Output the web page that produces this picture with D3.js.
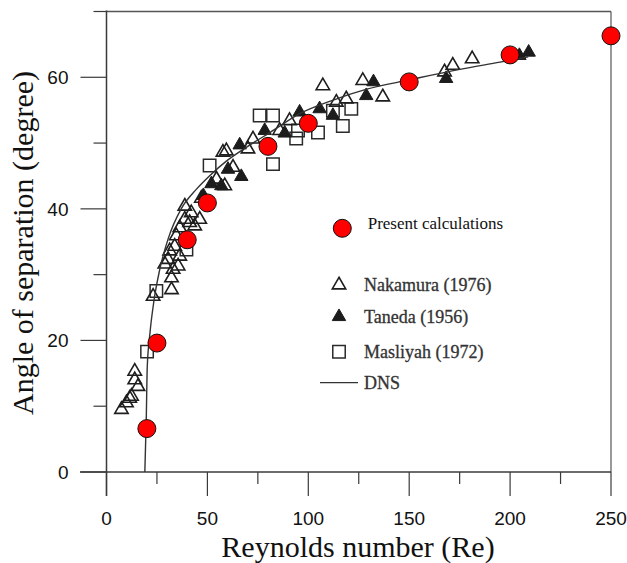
<!DOCTYPE html>
<html>
<head>
<meta charset="utf-8">
<script src="https://cdn.jsdelivr.net/npm/d3@7"></script>
<style>
  html, body { margin: 0; padding: 0; background: #fff; }
  svg { display: block; }
</style>
</head>
<body>
<svg id="chart" width="627" height="563"></svg>
<script>
// ---- data (Re, angle in degrees) ----
const presentRe    = [20, 25, 40, 50, 80, 100, 150, 200, 250];
const presentAngle = [6.6, 19.6, 35.3, 40.9, 49.5, 53.0, 59.3, 63.4, 66.3];

const nakamuraRe    = [7.4, 9.9, 11.5, 12.4, 14, 15.6, 14, 23.1, 32.2, 32.2, 33, 28.9, 30.5, 35.5, 31.3, 33.8, 36.3, 34.6, 36.3, 38.8, 41.2, 38.8, 42, 43.7, 46.2, 47, 54.5, 58.6, 57.7, 59.4, 62.7, 70.1, 72.6, 85.8, 90.7, 107.2, 113.9, 118.8, 127, 136.9, 167.5, 171.6, 181.2];
const nakamuraAngle = [9.5, 10.5, 11.2, 11.5, 14, 13, 15.3, 26.7, 27.7, 29.5, 30.8, 31.6, 32.3, 31.3, 33.6, 34.3, 32.8, 35.9, 37.1, 38.4, 37.9, 40.4, 39.4, 37.4, 38.4, 41.6, 44.5, 43.5, 48.6, 48.8, 46.3, 49.1, 50.6, 51.9, 53.4, 58.7, 56.2, 56.7, 59.5, 57.0, 60.8, 61.8, 62.8];

const tanedaRe    = [48, 52, 56.9, 60.2, 66, 66.8, 78.4, 88.3, 95.7, 105.6, 112.2, 128.7, 132.3, 168.3, 204.6, 209.2];
const tanedaAngle = [42.0, 43.8, 43.5, 46.0, 49.7, 44.9, 51.9, 51.5, 54.7, 55.2, 54.2, 57.2, 59.3, 59.8, 63.3, 63.8];

const masliyahRe    = [20.1, 24.7, 39.6, 51.1, 75.9, 82.5, 82.5, 94, 94.9, 104.8, 112.2, 117.1, 121.3];
const masliyahAngle = [18.3, 27.5, 33.8, 46.6, 54.2, 54.2, 46.8, 50.7, 51.9, 51.6, 54.9, 52.6, 55.2];

const dnsRe    = [19, 19.7, 20.2, 21.5, 23.5, 26.4, 30.5, 37, 44.6, 51, 60, 70, 81, 96, 112, 129, 150, 175, 195, 209];
const dnsAngle = [0, 8, 16, 21, 26, 30.8, 35.4, 40, 43, 45, 47.4, 49.5, 51.6, 54.5, 56.5, 58.2, 59.6, 61.2, 62.3, 63.1];

const xTicks = [0, 25, 50, 75, 100, 125, 150, 175, 200, 225, 250];
const xTickLabels = ["0", "", "50", "", "100", "", "150", "", "200", "", "250"];
const yTicks = [0, 10, 20, 30, 40, 50, 60, 70];
const yTickLabels = ["0", "", "20", "", "40", "", "60", ""];

const legendLabels = ["Present calculations", "Nakamura (1976)", "Taneda (1956)", "Masliyah (1972)", "DNS"];

// ---- drawing ----
const svg = d3.select("#chart");
const x = d3.scaleLinear().domain([0, 250]).range([106.5, 611]);
const y = d3.scaleLinear().domain([0, 70]).range([472, 11.5]);

const frameColor = "#3a3a3a";

// frame top & right
svg.append("line").attr("x1", x(0)).attr("x2", x(250)).attr("y1", y(70)).attr("y2", y(70))
  .attr("stroke", "#555").attr("stroke-width", 1.5);
svg.append("line").attr("x1", x(250)).attr("x2", x(250)).attr("y1", y(70)).attr("y2", y(0))
  .attr("stroke", "#555").attr("stroke-width", 1.2);

// x axis
const xAxis = svg.append("g").attr("transform", `translate(0,${y(0)})`);
xAxis.append("line").attr("x1", 80).attr("x2", x(250)).attr("y1", 0).attr("y2", 0)
  .attr("stroke", frameColor).attr("stroke-width", 1.5);
xTicks.forEach((t, i) => {
  const major = xTickLabels[i] !== "";
  xAxis.append("line").attr("x1", x(t)).attr("x2", x(t)).attr("y1", 0).attr("y2", major ? 24 : 12)
    .attr("stroke", frameColor).attr("stroke-width", 1.2);
  if (major) {
    xAxis.append("text").attr("x", x(t)).attr("y", 53).attr("text-anchor", "middle")
      .attr("font-family", "'Liberation Sans', Arial, sans-serif").attr("font-size", 19)
      .attr("fill", "#111").text(xTickLabels[i]);
  }
});

// y axis
const yAxis = svg.append("g").attr("transform", `translate(${x(0)},0)`);
yAxis.append("line").attr("x1", 0).attr("x2", 0).attr("y1", y(70) - 1).attr("y2", y(0) + 24)
  .attr("stroke", frameColor).attr("stroke-width", 1.5);
yTicks.forEach((t, i) => {
  const major = yTickLabels[i] !== "";
  yAxis.append("line").attr("x1", major ? -26 : -13).attr("x2", 0).attr("y1", y(t)).attr("y2", y(t))
    .attr("stroke", frameColor).attr("stroke-width", 1.2);
  if (major) {
    yAxis.append("text").attr("x", -38).attr("y", y(t) + 6.8).attr("text-anchor", "end")
      .attr("font-family", "'Liberation Sans', Arial, sans-serif").attr("font-size", 19)
      .attr("fill", "#111").text(yTickLabels[i]);
  }
});

// axis titles
svg.append("text").attr("x", 358).attr("y", 556.5).attr("text-anchor", "middle")
  .attr("font-family", "'Liberation Serif', 'Times New Roman', serif").attr("font-size", 30)
  .attr("fill", "#111").text("Reynolds number (Re)");
svg.append("text").attr("transform", "translate(33,243) rotate(-90)").attr("text-anchor", "middle")
  .attr("font-family", "'Liberation Serif', 'Times New Roman', serif").attr("font-size", 30)
  .attr("fill", "#111").text("Angle of separation (degree)");

const triSym = d3.symbol().type(d3.symbolTriangle).size(78);
const sqSym = d3.symbol().type(d3.symbolSquare).size(155);

// Masliyah squares
svg.append("g").selectAll("path").data(masliyahRe).join("path")
  .attr("d", sqSym)
  .attr("transform", (d, i) => `translate(${x(d)},${y(masliyahAngle[i])})`)
  .attr("fill", "none").attr("stroke", "#2a2a2a").attr("stroke-width", 1.5);

// Nakamura open triangles
svg.append("g").selectAll("path").data(nakamuraRe).join("path")
  .attr("d", triSym)
  .attr("transform", (d, i) => `translate(${x(d)},${y(nakamuraAngle[i])})`)
  .attr("fill", "none").attr("stroke", "#1e1e1e").attr("stroke-width", 1.6);

// Taneda filled triangles
svg.append("g").selectAll("path").data(tanedaRe).join("path")
  .attr("d", triSym)
  .attr("transform", (d, i) => `translate(${x(d)},${y(tanedaAngle[i])})`)
  .attr("fill", "#1c1c1c").attr("stroke", "#1c1c1c").attr("stroke-width", 1);

// DNS line
const dnsData = dnsRe.map((d, i) => [d, dnsAngle[i]]);
svg.append("path").datum(dnsData)
  .attr("d", d3.line().x(d => x(d[0])).y(d => y(d[1])).curve(d3.curveMonotoneX))
  .attr("fill", "none").attr("stroke", "#333").attr("stroke-width", 1.4);

// Present calculations
svg.append("g").selectAll("circle").data(presentRe).join("circle")
  .attr("cx", d => x(d)).attr("cy", (d, i) => y(presentAngle[i])).attr("r", 9)
  .attr("fill", "#ff0000").attr("stroke", "#111").attr("stroke-width", 1);

// legend
const lg = svg.append("g");
lg.append("circle").attr("cx", 342.3).attr("cy", 228.3).attr("r", 9)
  .attr("fill", "#ff0000").attr("stroke", "#111").attr("stroke-width", 1);
lg.append("text").attr("x", 367.7).attr("y", 229).attr("font-family", "'Liberation Serif', 'Times New Roman', serif")
  .attr("font-size", 17).attr("fill", "#111").text(legendLabels[0]);

const legRows = [285, 316.7, 351.7];
lg.append("path").attr("d", triSym).attr("transform", `translate(339,${legRows[0]})`)
  .attr("fill", "none").attr("stroke", "#1e1e1e").attr("stroke-width", 1.6);
lg.append("path").attr("d", triSym).attr("transform", `translate(339,${legRows[1]})`)
  .attr("fill", "#1c1c1c").attr("stroke", "#1c1c1c").attr("stroke-width", 1);
lg.append("path").attr("d", sqSym).attr("transform", `translate(339,${legRows[2]})`)
  .attr("fill", "none").attr("stroke", "#2a2a2a").attr("stroke-width", 1.5);
legRows.forEach((ry, i) => {
  lg.append("text").attr("x", 364).attr("y", ry + 6).attr("font-family", "'Liberation Serif', 'Times New Roman', serif")
    .attr("font-size", 18).attr("fill", "#333").attr("stroke", "#333").attr("stroke-width", 0.3)
    .text(legendLabels[i + 1]);
});
lg.append("line").attr("x1", 320).attr("x2", 358).attr("y1", 382.7).attr("y2", 382.7)
  .attr("stroke", "#333").attr("stroke-width", 1.3);
lg.append("text").attr("x", 364).attr("y", 389).attr("font-family", "'Liberation Serif', 'Times New Roman', serif")
  .attr("font-size", 18).attr("fill", "#333").attr("stroke", "#333").attr("stroke-width", 0.3)
  .text(legendLabels[4]);
</script>
</body>
</html>
